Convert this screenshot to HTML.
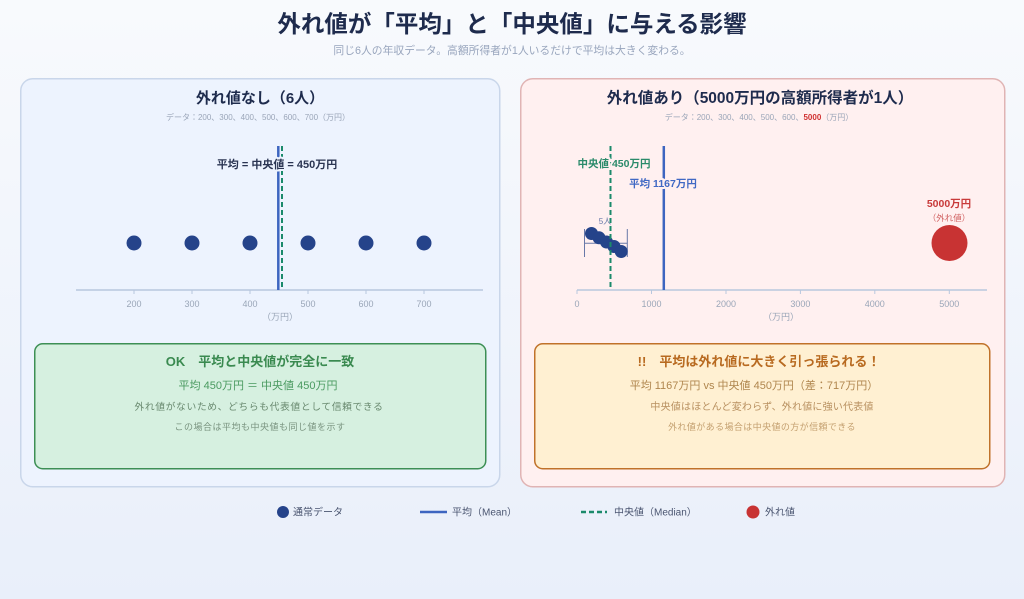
<!DOCTYPE html>
<html><head><meta charset="utf-8">
<style>
html,body{margin:0;padding:0;}
body{width:1024px;height:599px;overflow:hidden;background:linear-gradient(#f8fafd,#e9effa);font-family:"Liberation Sans","Noto Sans CJK JP",sans-serif;}
svg{display:block;}
text{font-family:"Liberation Sans","Noto Sans CJK JP",sans-serif;}
.halo{paint-order:stroke;stroke-linejoin:round;}
</style></head><body>
<svg width="1024" height="599" viewBox="0 0 1024 599" xmlns="http://www.w3.org/2000/svg">
<!-- title -->
<text x="512" y="32" text-anchor="middle" font-size="23.5" font-weight="bold" fill="#1e2b4d">外れ値が「平均」と「中央値」に与える影響</text>
<text x="512" y="54" text-anchor="middle" font-size="10.8" fill="#98a5bd">同じ6人の年収データ。高額所得者が1人いるだけで平均は大きく変わる。</text>

<!-- left panel -->
<rect x="20.75" y="78.75" width="479" height="408" rx="12" fill="#edf3fe" stroke="#c9d6ea" stroke-width="1.5"/>
<text x="260" y="103" text-anchor="middle" font-size="15" font-weight="bold" fill="#1e2b4d">外れ値なし（6人）</text>
<text x="258" y="120" text-anchor="middle" font-size="8" fill="#9aa5b8">データ：200、300、400、500、600、700（万円）</text>

<line x1="76" y1="290" x2="483" y2="290" stroke="#b8c7de" stroke-width="1.5"/>
<g stroke="#b8c7de" stroke-width="1">
<line x1="134" y1="290" x2="134" y2="294"/><line x1="192" y1="290" x2="192" y2="294"/><line x1="250" y1="290" x2="250" y2="294"/>
<line x1="308" y1="290" x2="308" y2="294"/><line x1="366" y1="290" x2="366" y2="294"/><line x1="424" y1="290" x2="424" y2="294"/>
</g>
<g font-size="9" fill="#9aa6b8" text-anchor="middle">
<text x="134" y="307">200</text><text x="192" y="307">300</text><text x="250" y="307">400</text>
<text x="308" y="307">500</text><text x="366" y="307">600</text><text x="424" y="307">700</text>
<text x="280" y="320">（万円）</text>
</g>
<g fill="#25438a">
<circle cx="134" cy="243" r="7.5"/><circle cx="192" cy="243" r="7.5"/><circle cx="250" cy="243" r="7.5"/>
<circle cx="308" cy="243" r="7.5"/><circle cx="366" cy="243" r="7.5"/><circle cx="424" cy="243" r="7.5"/>
</g>
<line x1="278.3" y1="146" x2="278.3" y2="290" stroke="#3d65c0" stroke-width="2.5"/>
<line x1="282" y1="146" x2="282" y2="290" stroke="#1b8a6b" stroke-width="2" stroke-dasharray="5,3"/>
<text class="halo" x="277" y="168" text-anchor="middle" font-size="11" font-weight="bold" fill="#2a3452" stroke="#edf3fe" stroke-width="4">平均 = 中央値 = 450万円</text>

<!-- green box -->
<rect x="34.75" y="343.75" width="451" height="125" rx="8" fill="#d6f0e0" stroke="#3d8f55" stroke-width="1.5"/>
<text x="260" y="366" text-anchor="middle" font-size="13" font-weight="bold" fill="#3a8a50">OK　平均と中央値が完全に一致</text>
<text x="258" y="389" text-anchor="middle" font-size="11" fill="#4a9a60">平均 450万円 ＝ 中央値 450万円</text>
<text x="259" y="410" text-anchor="middle" font-size="9.8" letter-spacing="0.6" fill="#6a8a70">外れ値がないため、どちらも代表値として信頼できる</text>
<text x="260" y="430" text-anchor="middle" font-size="9" letter-spacing="0.5" fill="#7a9480">この場合は平均も中央値も同じ値を示す</text>

<!-- right panel -->
<rect x="520.75" y="78.75" width="484" height="408" rx="12" fill="#fff0f0" stroke="#e0b4b4" stroke-width="1.5"/>
<text x="760" y="103" text-anchor="middle" font-size="15.5" font-weight="bold" fill="#1e2b4d">外れ値あり（5000万円の高額所得者が1人）</text>
<text x="759" y="120" text-anchor="middle" font-size="8" fill="#9aa5b8">データ：200、300、400、500、600、<tspan fill="#d03030" font-weight="bold">5000</tspan>（万円）</text>

<line x1="577" y1="290" x2="987" y2="290" stroke="#b8c7de" stroke-width="1.5"/>
<g stroke="#b8c7de" stroke-width="1">
<line x1="577" y1="290" x2="577" y2="294"/><line x1="651.5" y1="290" x2="651.5" y2="294"/><line x1="726" y1="290" x2="726" y2="294"/>
<line x1="800.4" y1="290" x2="800.4" y2="294"/><line x1="874.8" y1="290" x2="874.8" y2="294"/><line x1="949.3" y1="290" x2="949.3" y2="294"/>
</g>
<g font-size="9" fill="#9aa6b8" text-anchor="middle">
<text x="577" y="307">0</text><text x="651.5" y="307">1000</text><text x="726" y="307">2000</text>
<text x="800.4" y="307">3000</text><text x="874.8" y="307">4000</text><text x="949.3" y="307">5000</text>
<text x="781" y="320">（万円）</text>
</g>
<!-- cluster -->
<g stroke="#6878a8" stroke-width="1" fill="none">
<line x1="584.5" y1="229" x2="584.5" y2="257"/>
<line x1="627.3" y1="229" x2="627.3" y2="257"/>
<line x1="584.5" y1="243.3" x2="627.3" y2="243.3"/>
</g>
<text x="605" y="224" text-anchor="middle" font-size="8" fill="#6878a8">5人</text>
<g fill="#25438a">
<circle cx="591.5" cy="233.5" r="6.5"/><circle cx="599" cy="237.8" r="6.5"/><circle cx="606.5" cy="242" r="6.5"/>
<circle cx="614" cy="246.5" r="6.5"/><circle cx="621.2" cy="251.5" r="6.5"/>
</g>
<line x1="610.5" y1="146" x2="610.5" y2="290" stroke="#1b8a6b" stroke-width="2" stroke-dasharray="5,3"/>
<line x1="663.8" y1="146" x2="663.8" y2="290" stroke="#3d65c0" stroke-width="2.5"/>
<text class="halo" x="614" y="167" text-anchor="middle" font-size="10.5" font-weight="bold" fill="#2a8a6a" stroke="#fff0f0" stroke-width="4">中央値 450万円</text>
<text class="halo" x="663" y="187" text-anchor="middle" font-size="10.5" font-weight="bold" fill="#4169c4" stroke="#fff0f0" stroke-width="4">平均 1167万円</text>
<circle cx="949.5" cy="243" r="18" fill="#c83333"/>
<text x="949" y="207" text-anchor="middle" font-size="10.5" font-weight="bold" fill="#c83a3a">5000万円</text>
<text x="949" y="221" text-anchor="middle" font-size="8.5" fill="#d06060">（外れ値）</text>

<!-- orange box -->
<rect x="534.75" y="343.75" width="455" height="125" rx="8" fill="#fff0d2" stroke="#c0722a" stroke-width="1.5"/>
<text x="759" y="366" text-anchor="middle" font-size="13" font-weight="bold" fill="#b86a20">!!　平均は外れ値に大きく引っ張られる！</text>
<text x="754" y="389" text-anchor="middle" font-size="11" fill="#b0864e">平均 1167万円 vs 中央値 450万円（差：717万円）</text>
<text x="762" y="410" text-anchor="middle" font-size="10" letter-spacing="0.2" fill="#b89060">中央値はほとんど変わらず、外れ値に強い代表値</text>
<text x="762" y="430" text-anchor="middle" font-size="9" letter-spacing="0.4" fill="#c4a070">外れ値がある場合は中央値の方が信頼できる</text>

<!-- legend -->
<circle cx="283" cy="512" r="6" fill="#25438a"/>
<text x="293" y="515.5" font-size="10" fill="#4a5570">通常データ</text>
<line x1="420" y1="512" x2="447" y2="512" stroke="#3d65c0" stroke-width="2.5"/>
<text x="452" y="515.5" font-size="10" fill="#4a5570">平均（Mean）</text>
<line x1="581" y1="512" x2="607" y2="512" stroke="#1b8a6b" stroke-width="2.5" stroke-dasharray="5,3"/>
<text x="614" y="515.5" font-size="10" fill="#4a5570">中央値（Median）</text>
<circle cx="753" cy="512" r="6.5" fill="#c83333"/>
<text x="765" y="515.5" font-size="10" fill="#4a5570">外れ値</text>
</svg>
</body></html>
